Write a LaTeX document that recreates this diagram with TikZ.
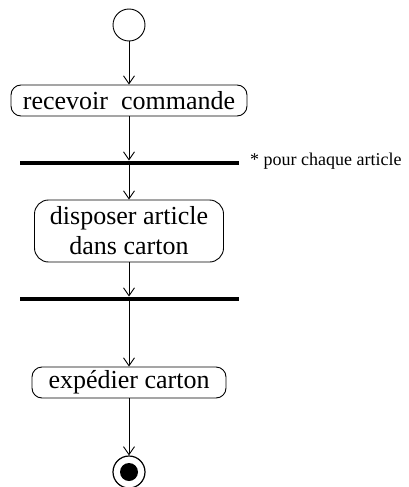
\documentclass[tikz,border=0pt]{standalone}
\usepackage{fontspec}
\setmainfont{Liberation Serif}
\usetikzlibrary{arrows.meta}
\begin{document}
\begin{tikzpicture}[x=1pt,y=-1pt,
  act/.style={draw,line width=0.9pt,rounded corners=10pt,inner sep=0pt,
    font=\fontsize{26}{30}\selectfont,align=center},
  syncbar/.style={fill=black,inner sep=0pt,minimum width=219pt,minimum height=4.5pt},
  flow/.style={line width=0.9pt,-{Straight Barb[length=8pt,width=11pt,line width=0.9pt]}},
  note/.style={font=\fontsize{18}{21}\selectfont,inner sep=0pt}]
\useasboundingbox (0,0) rectangle (408,487);
\node[draw,circle,line width=0.9pt,minimum size=32pt,inner sep=0pt] (start) at (129,25) {};
\node[act,minimum width=236pt,minimum height=31pt] (recv) at (129,100.5) {recevoir\ \ commande};
\node[syncbar] (bar1) at (129.5,163) {};
\node[note,anchor=base west] (lab) at (250,165) {* pour chaque article};
\node[act,rounded corners=14pt,minimum width=189pt,minimum height=62pt] (disp) at (129,231) {disposer article\\dans carton};
\node[syncbar] (bar2) at (129.5,299) {};
\node[act,minimum width=194pt,minimum height=31pt] (exp) at (129,382.5) {expédier carton};
\node[draw,circle,line width=1.2pt,minimum size=32pt,inner sep=0pt] (end) at (129,472) {};
\fill (end.center) circle (9pt);
\draw[flow] (start) -- (recv.north -| start);
\draw[flow] (recv.south -| start) -- (bar1.north -| start);
\draw[flow] (bar1.south -| start) -- (disp.north -| start);
\draw[flow] (disp.south -| start) -- (bar2.north -| start);
\draw[flow] (bar2.south -| start) -- (exp.north -| start);
\draw[flow] (exp.south -| start) -- (end.north);
\end{tikzpicture}
\end{document}
